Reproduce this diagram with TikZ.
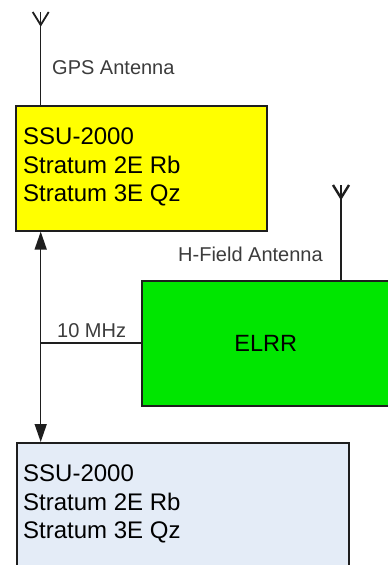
\documentclass[tikz,border=0pt]{standalone}
\usepackage{fontspec}
\setmainfont{Liberation Sans}
\usetikzlibrary{arrows.meta}
\definecolor{ssuyellow}{RGB}{255,255,0}
\definecolor{elrrgreen}{RGB}{0,230,0}
\definecolor{ssublue}{RGB}{228,236,247}
\definecolor{edgecol}{RGB}{30,30,30}
\definecolor{labelgray}{RGB}{60,60,60}
\begin{document}
\begin{tikzpicture}[x=1pt,y=-1pt,
  box/.style={draw=edgecol, line width=1.6pt, inner sep=0, anchor=north west},
  boxtext/.style={inner sep=0, anchor=north west, align=left, font=\fontsize{24}{28.5}\selectfont},
  lbl/.style={inner sep=0, anchor=base west, text=labelgray, font=\fontsize{20}{24}\selectfont},
  wire/.style={draw=edgecol, line width=1.5pt},
  thickwire/.style={draw=edgecol, line width=2.6pt},
  antenna/.style={draw=edgecol, line width=1.8pt, line join=miter}]
\clip (0,0) rectangle (388,565);
\fill[white] (0,0) rectangle (388,565);
% boxes
\node[box, fill=ssuyellow, minimum width=251pt, minimum height=125pt] (ssua) at (15,105) {};
\node[box, fill=elrrgreen, minimum width=248pt, minimum height=125pt, anchor=north west,
      font=\fontsize{23.5}{28}\selectfont] (elrr) at (141,280) {ELRR};
\node[box, fill=ssublue, minimum width=332pt, minimum height=160pt] (ssub) at (16,442) {};
% box texts
\node[boxtext] (ssuatext) at (23,128) {SSU-2000\\Stratum 2E Rb\\Stratum 3E Qz};
\node[boxtext] (ssubtext) at (23,465) {SSU-2000\\Stratum 2E Rb\\Stratum 3E Qz};
% GPS antenna
\coordinate (gpsant) at (40.7,12);
\draw[antenna] (32.7,12) -- (40.7,25) -- (48.7,12);
\draw[wire] (gpsant) -- (gpsant |- ssua.north);
\node[lbl] (gpslbl) at (52,74) {GPS Antenna};
% H-field antenna
\coordinate (hant) at (341,185);
\draw[antenna, line width=2.4pt] (333,185) -- (341,198) -- (349,185);
\draw[thickwire] (hant) -- (hant |- elrr.north);
\node[lbl] (hlbl) at (178,261) {H-Field Antenna};
% bus between the two SSUs
\coordinate (bus) at (40.7,0);
\draw[wire, {Triangle[width=12pt,length=18pt]}-{Triangle[width=12pt,length=18pt]}]
  (bus |- ssua.south) -- (bus |- ssub.north);
% 10 MHz tap
\coordinate (tap) at (40.7,343);
\draw[thickwire] (tap) -- (tap -| elrr.west);
\node[lbl] (mhzlbl) at (57,337) {10 MHz};
\end{tikzpicture}
\end{document}
